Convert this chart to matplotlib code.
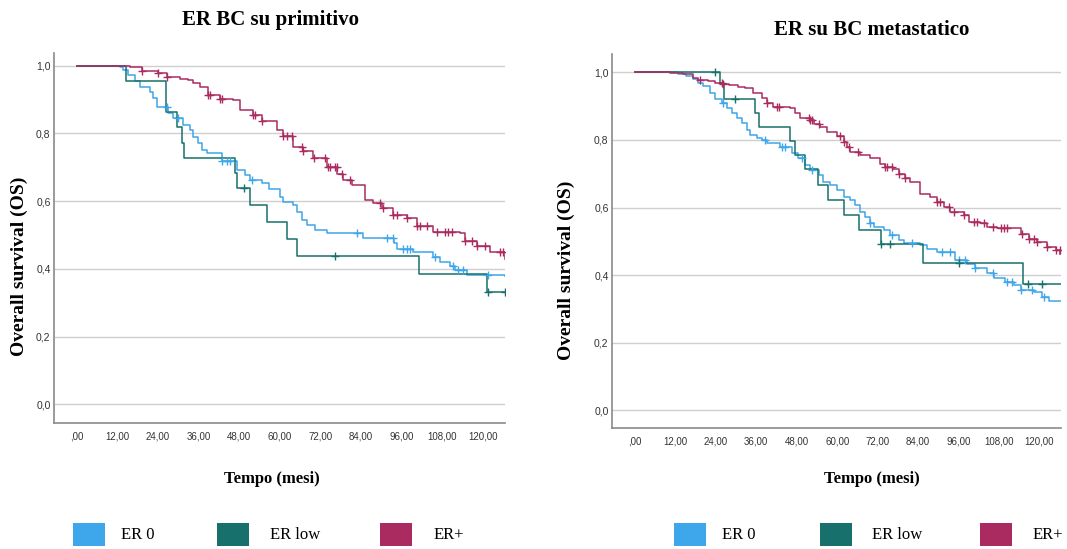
import numpy as np
import matplotlib
matplotlib.use("Agg")
import matplotlib.pyplot as plt
from matplotlib.patches import Rectangle

# ---------------- data (months, survival) ----------------
groups = ["ER 0", "ER low", "ER+"]
colors = ["#3ea6ea", "#17706b", "#a92b5f"]

# Left panel: ER BC su primitivo
p_er0_t = [0, 12.8, 13.8, 15.3, 17.2, 18.7, 21.7, 22.7, 23.6, 27.0, 28.6, 31.5, 33.5, 34.5, 36.0, 37.0, 38.4,
           42.9, 47.3, 49.8, 51.2, 54.7, 56.7, 60.1, 61.1, 64.0, 65.0, 66.5, 68.0, 70.4, 73.9, 84.7, 93.9,
           94.6, 99.5, 105.4, 107.4, 110.4, 111.8, 115.3, 126.6]
p_er0_s = [1.0, 0.995, 0.987, 0.972, 0.953, 0.936, 0.923, 0.904, 0.877, 0.859, 0.844, 0.825, 0.81, 0.788, 0.771, 0.751, 0.743,
           0.717, 0.692, 0.677, 0.662, 0.653, 0.635, 0.613, 0.598, 0.589, 0.569, 0.544, 0.53, 0.515, 0.505, 0.49, 0.475,
           0.459, 0.449, 0.436, 0.421, 0.408, 0.397, 0.382, 0.38]
p_er0_c = [26.6, 30.0, 42.9, 44.3, 45.3, 51.7, 82.8, 91.6, 93.6, 96.6, 97.5, 98.5, 105.9, 111.3, 112.8, 114.3, 121.7]

p_low_t = [0, 14.6, 26.4, 29.6, 31.0, 31.7, 46.8, 47.5, 51.2, 56.2, 62.1, 65.2, 101.2, 121.2, 126.6]
p_low_s = [1.0, 0.953, 0.864, 0.818, 0.771, 0.726, 0.682, 0.638, 0.588, 0.538, 0.488, 0.439, 0.385, 0.331, 0.331]
p_low_c = [49.5, 76.4, 121.7, 126.6]

p_pos_t = [0, 15.8, 19.2, 24.0, 26.6, 30.5, 33.0, 34.5, 36.5, 38.9, 42.4, 46.3, 48.3, 52.2, 54.7, 59.1, 61.1, 64.0,
           67.0, 69.9, 73.9, 76.9, 78.8, 81.3, 85.2, 87.7, 90.2, 93.6, 97.5, 100.5, 105.4, 113.3, 114.8, 118.2,
           122.2, 126.6]
p_pos_s = [1.0, 0.995, 0.985, 0.977, 0.967, 0.96, 0.958, 0.948, 0.936, 0.913, 0.90, 0.899, 0.869, 0.854, 0.837, 0.81, 0.792, 0.761,
           0.749, 0.726, 0.702, 0.68, 0.662, 0.648, 0.603, 0.595, 0.579, 0.559, 0.549, 0.527, 0.51, 0.505, 0.483, 0.466,
           0.451, 0.429]
p_pos_c = [19.2, 24.1, 26.6, 38.9, 39.4, 42.4, 42.9, 52.2, 52.7, 54.7, 61.1, 62.1, 63.5, 66.5, 67.0, 70.0, 73.4, 74.4,
           74.9, 76.4, 76.8, 78.3, 80.8, 89.7, 90.6, 93.6, 94.6, 97.5, 100.5, 101.5, 103.4, 106.4, 108.9, 109.9, 110.8,
           114.8, 116.7, 118.2, 120.7, 125.1, 126.1]

# Right panel: ER su BC metastatico
m_er0_t = [0, 12.9, 15.3, 17.3, 18.8, 20.3, 22.3, 23.8, 25.7, 27.2, 28.7, 30.2, 31.7, 33.2, 34.2, 36.1, 37.6, 39.1,
           43.1, 46.5, 48.5, 50.5, 52.0, 54.5, 55.9, 57.9, 59.9, 61.9, 63.9, 65.3, 66.8, 68.3, 69.8, 70.8, 73.8,
           75.7, 78.2, 79.7, 84.7, 86.6, 89.6, 95.0, 98.5, 101.0, 104.5, 106.4, 109.9, 112.4, 114.4, 118.3, 120.8,
           122.8, 126.4]
m_er0_s = [1.0, 0.995, 0.989, 0.979, 0.967, 0.958, 0.938, 0.92, 0.908, 0.893, 0.879, 0.864, 0.849, 0.829, 0.814, 0.805, 0.80, 0.792,
           0.78, 0.76, 0.745, 0.726, 0.711, 0.696, 0.676, 0.666, 0.652, 0.632, 0.622, 0.607, 0.587, 0.573, 0.555, 0.543, 0.533,
           0.518, 0.503, 0.496, 0.489, 0.476, 0.469, 0.444, 0.434, 0.42, 0.407, 0.393, 0.38, 0.37, 0.355, 0.35, 0.336,
           0.324, 0.324]
m_er0_c = [26.2, 38.6, 43.6, 44.6, 49.5, 52.5, 69.8, 76.2, 82.2, 91.1, 93.6, 96.0, 98.0, 101.0, 106.1, 110.4, 111.9,
           114.4, 117.8, 121.3]

m_low_t = [0, 25.2, 26.4, 35.6, 36.8, 46.0, 47.5, 50.5, 54.3, 57.4, 61.9, 66.4, 73.1, 85.4, 115.0, 126.4]
m_low_s = [1.0, 0.967, 0.92, 0.88, 0.837, 0.798, 0.755, 0.713, 0.668, 0.622, 0.578, 0.535, 0.492, 0.436, 0.373, 0.373]
m_low_c = [23.8, 29.7, 73.1, 75.7, 96.0, 116.6, 120.8]

m_pos_t = [0, 10.4, 14.4, 17.3, 18.8, 21.8, 23.8, 26.2, 28.0, 30.7, 32.7, 35.1, 37.6, 39.1, 41.1, 46.0, 47.5, 49.0,
           52.0, 53.0, 55.0, 56.9, 59.9, 61.9, 62.9, 63.9, 66.8, 69.8, 72.8, 74.3, 76.7, 78.2, 80.2, 81.7, 84.7,
           87.6, 89.6, 91.6, 93.6, 97.5, 99.0, 102.5, 104.5, 107.4, 114.4, 116.8, 119.3, 122.3, 124.8, 126.2]
m_pos_s = [1.0, 0.998, 0.995, 0.982, 0.977, 0.975, 0.969, 0.965, 0.962, 0.957, 0.953, 0.938, 0.923, 0.908, 0.898, 0.893, 0.879, 0.864,
           0.859, 0.847, 0.839, 0.824, 0.811, 0.795, 0.78, 0.765, 0.755, 0.745, 0.73, 0.719, 0.713, 0.699, 0.686, 0.676, 0.64,
           0.632, 0.617, 0.602, 0.587, 0.577, 0.558, 0.553, 0.543, 0.538, 0.523, 0.508, 0.499, 0.484, 0.474, 0.464]
m_pos_c = [19.3, 25.7, 26.2, 39.1, 42.1, 42.6, 51.5, 52.0, 52.5, 54.5, 60.9, 61.9, 63.4, 66.3, 74.3, 74.8, 76.2, 78.2,
           80.2, 89.6, 90.6, 93.1, 94.6, 97.5, 100.5, 101.5, 103.5, 106.1, 108.6, 109.4, 110.4, 114.9, 116.8, 118.3,
           119.3, 122.3, 124.8, 126.0]

titles = ["ER BC su primitivo", "ER su BC metastatico"]
ylabel = "Overall survival (OS)"
xlabel = "Tempo (mesi)"
xticks = [0, 12, 24, 36, 48, 60, 72, 84, 96, 108, 120]
xticklabels = [",00", "12,00", "24,00", "36,00", "48,00", "60,00", "72,00", "84,00", "96,00", "108,00", "120,00"]
yticks = [0.0, 0.2, 0.4, 0.6, 0.8, 1.0]
yticklabels = ["0,0", "0,2", "0,4", "0,6", "0,8", "1,0"]

panels = [
    [(p_er0_t, p_er0_s, p_er0_c), (p_low_t, p_low_s, p_low_c), (p_pos_t, p_pos_s, p_pos_c)],
    [(m_er0_t, m_er0_s, m_er0_c), (m_low_t, m_low_s, m_low_c), (m_pos_t, m_pos_s, m_pos_c)],
]

# ---------------- figure ----------------
W, H = 1067, 549
fig = plt.figure(figsize=(W / 100, H / 100), dpi=100)
fig.patch.set_facecolor("white")

def fx(px):
    return px / W

def fy(py):
    return 1 - py / H

axes_px = [(54, 53, 505, 423), (612, 54, 1061, 428)]
xlims = [(-6.7, 126.6), (-6.8, 126.4)]
ylims = [(-0.055, 1.037), (-0.052, 1.054)]

serif = ["Liberation Serif", "DejaVu Serif"]
sans = ["Liberation Sans", "DejaVu Sans"]

for i, (l, t, r, b) in enumerate(axes_px):
    ax = fig.add_axes([fx(l), fy(b), (r - l) / W, (b - t) / H])
    ax.set_xlim(*xlims[i])
    ax.set_ylim(*ylims[i])
    for yv in yticks:
        ax.axhline(yv, color="#cfcfcf", lw=1.0, zorder=1)
    for (tt, ss, cc), col in zip(panels[i], colors):
        tt = np.asarray(tt)
        ss = np.asarray(ss)
        ax.step(tt, ss, where="post", color=col, lw=1.1, zorder=3)
        cc = np.asarray(cc)
        idx = np.searchsorted(tt, cc, side="right") - 1
        ax.plot(cc, ss[idx], linestyle="none", marker="+", ms=6, mew=1.0, color=col, zorder=4)
    for s in ["top", "right"]:
        ax.spines[s].set_visible(False)
    for s in ["left", "bottom"]:
        ax.spines[s].set_color("#8a8a8a")
        ax.spines[s].set_linewidth(1.2)
    ax.set_xticks(xticks)
    ax.set_xticklabels(xticklabels, fontfamily=sans, fontsize=7, color="#333333")
    ax.set_yticks(yticks)
    ax.set_yticklabels(yticklabels, fontfamily=sans, fontsize=7.5, color="#333333")
    ax.tick_params(axis="x", length=0, pad=6)
    ax.tick_params(axis="y", length=0, pad=2.5)

# titles
fig.text(fx(270), fy(20), titles[0], ha="center", va="center", fontfamily=serif, fontweight="bold", fontsize=15)
fig.text(fx(872), fy(30), titles[1], ha="center", va="center", fontfamily=serif, fontweight="bold", fontsize=15)
# y labels
fig.text(fx(19), fy(266), ylabel, rotation=90, ha="center", va="center", fontfamily=serif, fontweight="bold", fontsize=14)
fig.text(fx(566), fy(270), ylabel, rotation=90, ha="center", va="center", fontfamily=serif, fontweight="bold", fontsize=14)
# x labels
fig.text(fx(272), fy(479), xlabel, ha="center", va="center", fontfamily=serif, fontweight="bold", fontsize=12)
fig.text(fx(872), fy(479), xlabel, ha="center", va="center", fontfamily=serif, fontweight="bold", fontsize=12)

# legends
legend_patch_x = [[73, 217, 380], [674, 820, 980]]
legend_text_x = [[121, 270, 434], [722, 872, 1033]]
for k in range(2):
    for j, g in enumerate(groups):
        x0 = legend_patch_x[k][j]
        fig.patches.append(Rectangle((fx(x0), fy(546)), 32 / W, 23 / H, transform=fig.transFigure,
                                     facecolor=colors[j], edgecolor="none"))
        fig.text(fx(legend_text_x[k][j]), fy(535), g, ha="left", va="center", fontfamily=serif, fontsize=12)

fig.savefig("out.png", dpi=100, facecolor="white")
